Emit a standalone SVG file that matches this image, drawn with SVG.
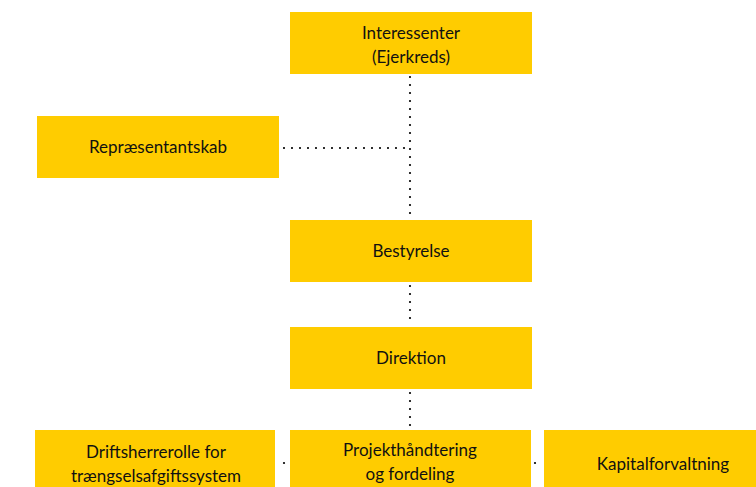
<svg xmlns="http://www.w3.org/2000/svg" width="756" height="487" viewBox="0 0 756 487">
<style>
.box{fill:#FFCC00}
.t{font-family:Lato,"Open Sans",sans-serif;font-size:17px;fill:#111;text-anchor:middle;dominant-baseline:central}
.c{stroke:#000;stroke-width:2.2;stroke-linecap:round;stroke-dasharray:0 8;fill:none}
</style>
<rect width="756" height="487" fill="#fff"/>
<g id="connectors">
<line class="c" x1="410" y1="77" x2="410" y2="216"/>
<line class="c" x1="284" y1="148" x2="404" y2="148"/>
<line class="c" x1="404" y1="148" x2="410" y2="148" style="stroke-dasharray:0 6"/>
<line class="c" x1="410" y1="286" x2="410" y2="324"/>
<line class="c" x1="410" y1="393" x2="410" y2="426"/>
<line class="c" x1="284" y1="463" x2="284" y2="463"/>
<line class="c" x1="535" y1="463" x2="541" y2="463" style="stroke-dasharray:0 6"/>
</g>
<g id="interessenter"><rect class="box" x="290" y="12" width="242" height="62"/><text class="t" x="411" y="32">Interessenter</text><text class="t" x="411" y="56">(Ejerkreds)</text></g>
<g id="repraesentantskab"><rect class="box" x="37" y="116" width="242" height="62"/><text class="t" x="158" y="146">Repræsentantskab</text></g>
<g id="bestyrelse"><rect class="box" x="290" y="220" width="242" height="62"/><text class="t" x="411" y="250">Bestyrelse</text></g>
<g id="direktion"><rect class="box" x="290" y="327" width="242" height="62"/><text class="t" x="411" y="357">Direktion</text></g>
<g id="driftsherrerolle"><rect class="box" x="35" y="430" width="240" height="62"/><text class="t" x="156" y="451">Driftsherrerolle for</text><text class="t" x="156" y="475">trængselsafgiftssystem</text></g>
<g id="projekthaandtering"><rect class="box" x="290" y="430" width="241" height="62"/><text class="t" x="410" y="449">Projekthåndtering</text><text class="t" x="410" y="473">og fordeling</text></g>
<g id="kapitalforvaltning"><rect class="box" x="544" y="430" width="220" height="62"/><text class="t" x="663" y="463">Kapitalforvaltning</text></g>
</svg>
